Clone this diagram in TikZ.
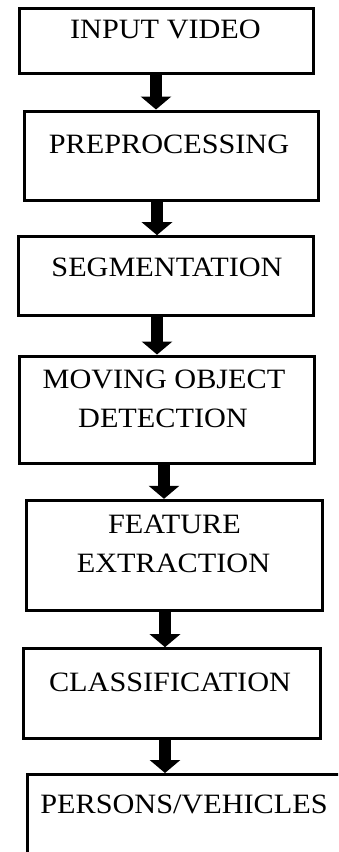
\documentclass[tikz,border=0pt]{standalone}
\usepackage{fontspec}
\setmainfont{Liberation Serif}
\usetikzlibrary{arrows.meta}
\newcommand{\wtxt}[1]{\scalebox{1.08}[1]{#1}}
\tikzset{
  box/.style={draw=black, line width=3pt, fill=white, rectangle, inner sep=0pt},
  lbl/.style={anchor=base, inner sep=0pt, font=\fontsize{28}{34}\selectfont},
  flow/.style={line width=12pt, draw=black, -{Triangle[width=30pt,length=13pt]}}
}
\begin{document}
\begin{tikzpicture}[x=1pt,y=-1pt]
\useasboundingbox (0,0) rectangle (338,852);
\clip (0,0) rectangle (338,852);
\fill[white] (0,0) rectangle (338,852);
% boxes
\node[box, minimum width=294pt, minimum height=64.5pt] (b1) at (166.5,40.75) {};
\node[box, minimum width=294pt, minimum height=89pt]   (b2) at (171,155.5) {};
\node[box, minimum width=294.7pt, minimum height=78.6pt] (b3) at (165.7,276) {};
\node[box, minimum width=295pt, minimum height=107.7pt] (b4) at (166.5,409.85) {};
\node[box, minimum width=295.3pt, minimum height=110pt] (b5) at (174.35,555.3) {};
\node[box, minimum width=296.6pt, minimum height=89.3pt] (b6) at (172,693.35) {};
\node[box, minimum width=318pt, minimum height=87.5pt] (b7) at (186,818.25) {};
% texts
\node[lbl] (t1) at (165.5,38) {\wtxt{INPUT VIDEO}};
\node[lbl] (t2) at (169,153) {\wtxt{PREPROCESSING}};
\node[lbl] (t3) at (167,276.5) {\wtxt{SEGMENTATION}};
\node[lbl] (t4a) at (164,388) {\wtxt{MOVING OBJECT}};
\node[lbl] (t4b) at (163,427) {\wtxt{DETECTION}};
\node[lbl] (t5a) at (174.5,533) {\wtxt{FEATURE}};
\node[lbl] (t5b) at (173.5,572) {\wtxt{EXTRACTION}};
\node[lbl] (t6) at (170,691.5) {\wtxt{CLASSIFICATION}};
\node[lbl] (t7) at (184,813) {\wtxt{PERSONS/VEHICLES}};
% arrow x positions
\coordinate (x1) at (156,0);
\coordinate (x2) at (157,0);
\coordinate (x3) at (157,0);
\coordinate (x4) at (164,0);
\coordinate (x5) at (165,0);
\coordinate (x6) at (165,0);
\draw[flow] (x1 |- b1.south) -- (x1 |- b2.north);
\draw[flow] (x2 |- b2.south) -- (x2 |- b3.north);
\draw[flow] (x3 |- b3.south) -- (x3 |- b4.north);
\draw[flow] (x4 |- b4.south) -- (x4 |- b5.north);
\draw[flow] (x5 |- b5.south) -- (x5 |- b6.north);
\draw[flow] (x6 |- b6.south) -- (x6 |- b7.north);
\end{tikzpicture}
\end{document}
